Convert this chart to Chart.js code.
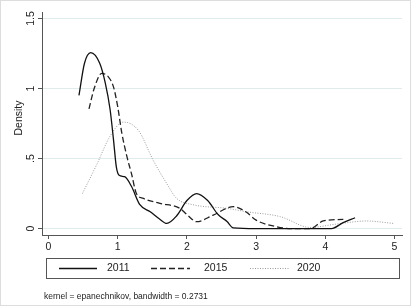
<!DOCTYPE html>
<html>
<head>
<meta charset="utf-8">
<script src="https://cdn.jsdelivr.net/npm/chart.js@4.4.0/dist/chart.umd.min.js"></script>
<style>
	html, body { margin: 0; padding: 0; background: #fff; }
	#wrap { width: 411px; height: 306px; position: relative; }
</style>
</head>
<body>
<div id="wrap"><canvas id="myChart" width="411" height="306"></canvas></div>
<script>
// values
var x2011 = [0.44, 0.52, 0.61, 0.74, 0.82, 0.89, 0.94, 0.98, 1.02, 1.1, 1.2, 1.32, 1.47, 1.6, 1.71, 1.85, 2.0, 2.14, 2.3, 2.45, 2.58, 2.67, 3.0, 3.5, 4.09, 4.25, 4.43];
var y2011 = [0.95, 1.18, 1.256, 1.18, 1.04, 0.85, 0.63, 0.44, 0.38, 0.37, 0.30, 0.17, 0.12, 0.07, 0.037, 0.09, 0.2, 0.25, 0.2, 0.1, 0.05, 0.005, 0, 0, 0, 0.04, 0.077];
var x2015 = [0.585, 0.66, 0.77, 0.87, 0.94, 1.0, 1.06, 1.13, 1.2, 1.27, 1.37, 1.61, 1.9, 2.0, 2.14, 2.38, 2.67, 2.85, 3.0, 3.3, 3.5, 3.78, 3.97, 4.26];
var y2015 = [0.854, 1.0, 1.108, 1.08, 1.01, 0.87, 0.68, 0.52, 0.39, 0.25, 0.215, 0.18, 0.144, 0.1, 0.049, 0.096, 0.156, 0.12, 0.06, 0.013, 0, 0, 0.054, 0.066];
var x2020 = [0.49, 0.7, 0.89, 1.08, 1.3, 1.51, 1.71, 1.85, 2.09, 2.58, 2.86, 3.35, 3.78, 4.16, 4.6, 4.98];
var y2020 = [0.25, 0.46, 0.66, 0.76, 0.70, 0.49, 0.32, 0.216, 0.17, 0.144, 0.12, 0.085, 0.008, 0.032, 0.054, 0.037];
var seriesNames = ['2011', '2015', '2020'];
var xTicks = [0, 1, 2, 3, 4, 5];
var yTicks = [0, 0.5, 1, 1.5];
var yTickLabels = ['0', '.5', '1', '1.5'];
var noteText = 'kernel = epanechnikov, bandwidth = 0.2731';

function pts(xs, ys) {
	return xs.map(function (x, i) { return {x: x, y: ys[i]}; });
}

var fontFam = '"Liberation Sans", Arial, sans-serif';

var stataPlugin = {
	id: 'stata',
	afterDraw: function (chart) {
		var ctx = chart.ctx;
		var xs = chart.scales.x;
		var ys = chart.scales.y;
		ctx.save();
		ctx.fillStyle = '#222';
		ctx.font = '10.5px ' + fontFam;
		ctx.textAlign = 'center';
		ctx.textBaseline = 'middle';
		// x tick labels
		xTicks.forEach(function (v) {
			ctx.fillText(String(v), xs.getPixelForValue(v), 247);
		});
		// y tick labels, rotated
		yTicks.forEach(function (v, i) {
			var py = ys.getPixelForValue(v);
			ctx.save();
			ctx.translate(31, py);
			ctx.rotate(-Math.PI / 2);
			ctx.fillText(yTickLabels[i], 0, 0);
			ctx.restore();
		});
		// y title
		ctx.save();
		ctx.translate(19, 118);
		ctx.rotate(-Math.PI / 2);
		ctx.fillText('Density', 0, 0);
		ctx.restore();

		// legend box
		ctx.strokeStyle = '#555';
		ctx.lineWidth = 1;
		ctx.strokeRect(46.5, 258.5, 353, 20);
		var items = [[59, 97, 107], [151, 190, 204], [250, 290, 297]];
		chart.data.datasets.forEach(function (ds, i) {
			var it = items[i];
			ctx.beginPath();
			ctx.strokeStyle = ds.borderColor;
			ctx.lineWidth = ds.borderWidth;
			ctx.setLineDash(ds.borderDash || []);
			ctx.moveTo(it[0], 268.5);
			ctx.lineTo(it[1], 268.5);
			ctx.stroke();
			ctx.setLineDash([]);
			ctx.fillStyle = '#222';
			ctx.textAlign = 'left';
			ctx.fillText(ds.label, it[2], 268.5);
		});

		// note
		ctx.font = '8.5px ' + fontFam;
		ctx.fillText(noteText, 44, 297);

		// outer frame
		ctx.strokeStyle = '#ddd';
		ctx.lineWidth = 1;
		ctx.strokeRect(0.5, 0.5, 410, 305);
		ctx.restore();
	}
};

window.myChart = new Chart(document.getElementById('myChart').getContext('2d'), {
	type: 'line',
	data: {
		datasets: [
			{
				label: seriesNames[0],
				data: pts(x2011, y2011),
				borderColor: '#111',
				borderWidth: 1.3,
			},
			{
				label: seriesNames[1],
				data: pts(x2015, y2015),
				borderColor: '#222',
				borderWidth: 1.3,
				borderDash: [6, 3],
			},
			{
				label: seriesNames[2],
				data: pts(x2020, y2020),
				borderColor: '#9a9a9a',
				borderWidth: 1,
				borderDash: [1, 1.5],
			}
		]
	},
	options: {
		responsive: false,
		animation: false,
		devicePixelRatio: 1,
		elements: {
			point: { radius: 0 },
			line: { cubicInterpolationMode: 'monotone', fill: false }
		},
		layout: { padding: { left: 42, right: 9, top: 12, bottom: 71 } },
		plugins: {
			legend: { display: false },
			tooltip: { enabled: false }
		},
		scales: {
			x: {
				type: 'linear',
				min: -0.094,
				max: 5.108,
				afterBuildTicks: function (s) { s.ticks = xTicks.map(function (v) { return {value: v}; }); },
				afterFit: function (s) { s.height = 0; },
				grid: { drawOnChartArea: false, drawTicks: true, tickLength: 4, tickColor: '#555' },
				border: { display: true, color: '#555', width: 1 },
				ticks: { display: false }
			},
			y: {
				type: 'linear',
				min: -0.046,
				max: 1.546,
				afterBuildTicks: function (s) { s.ticks = yTicks.map(function (v) { return {value: v}; }); },
				afterFit: function (s) { s.width = 0; },
				grid: {
					drawOnChartArea: true,
					drawTicks: true,
					tickLength: 4,
					color: '#e0ecec',
					tickColor: '#555'
				},
				border: { display: true, color: '#555', width: 1 },
				ticks: { display: false }
			}
		}
	},
	plugins: [stataPlugin]
});
</script>
</body>
</html>
